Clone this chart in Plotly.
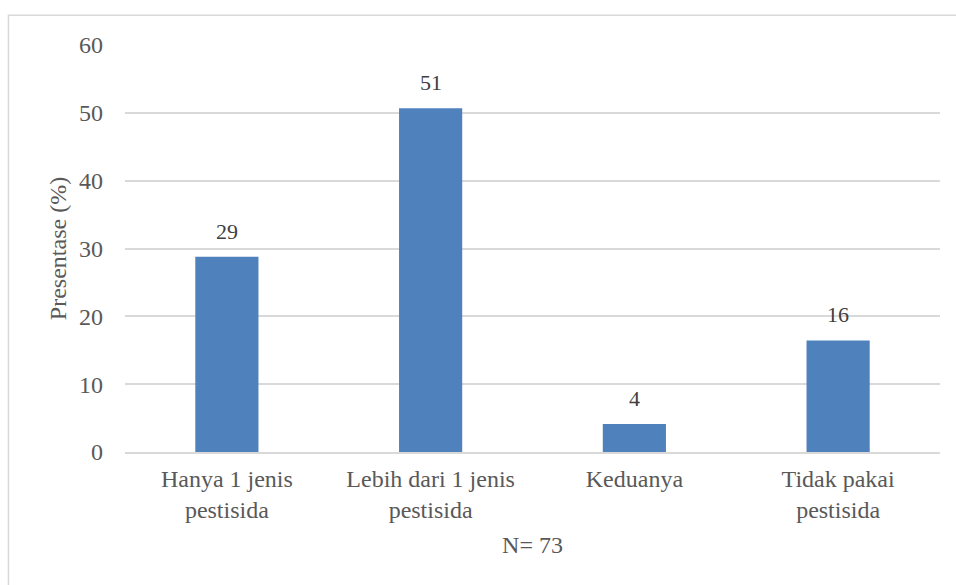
import plotly.graph_objects as go

categories = ["Hanya 1 jenis<br>pestisida", "Lebih dari 1 jenis<br>pestisida",
              "Keduanya", "Tidak pakai<br>pestisida"]
persen = [28.77, 50.68, 4.11, 16.44]
y_ticks = [0, 10, 20, 30, 40, 50, 60]

FONT = "Liberation Serif"
GREY = "#595959"
DARK = "#404040"
BAR = "#4f81bd"
FS = 24

fig = go.Figure(go.Bar(
    x=categories, y=persen, marker=dict(color=BAR, line=dict(width=0)),
    width=0.31,
))

for c, v in zip(categories, persen):
    fig.add_annotation(x=c, y=v, text=f"{v:.0f}", showarrow=False,
                       yanchor="bottom", yshift=11,
                       font=dict(family=FONT, size=22, color=DARK))

# outer chart border
fig.add_shape(type="rect", xref="paper", yref="paper",
              x0=-0.143, x1=1.03, y0=-0.5, y1=1.073,
              line=dict(color="#d9d9d9", width=1.5), layer="below")

fig.update_layout(
    width=956, height=585,
    margin=dict(l=125, r=16, t=45, b=133),
    paper_bgcolor="white", plot_bgcolor="white",
    font=dict(family=FONT, size=FS, color=GREY),
    showlegend=False,
    xaxis=dict(title=dict(text="N= 73", standoff=14,
                          font=dict(family=FONT, size=FS, color=GREY)),
               showline=True, linecolor="#d9d9d9", linewidth=1.5,
               ticks="", ticklabelstandoff=4,
               tickfont=dict(family=FONT, size=FS, color=GREY)),
    yaxis=dict(title=dict(text="Presentase (%)", standoff=5,
                          font=dict(family=FONT, size=FS, color=GREY)),
               range=[0, 60], tickvals=y_ticks, showgrid=True,
               gridcolor="#d9d9d9", gridwidth=1.5, zeroline=False,
               ticklabelstandoff=21,
               tickfont=dict(family=FONT, size=FS, color=GREY)),
)

fig.write_html("out.html")
